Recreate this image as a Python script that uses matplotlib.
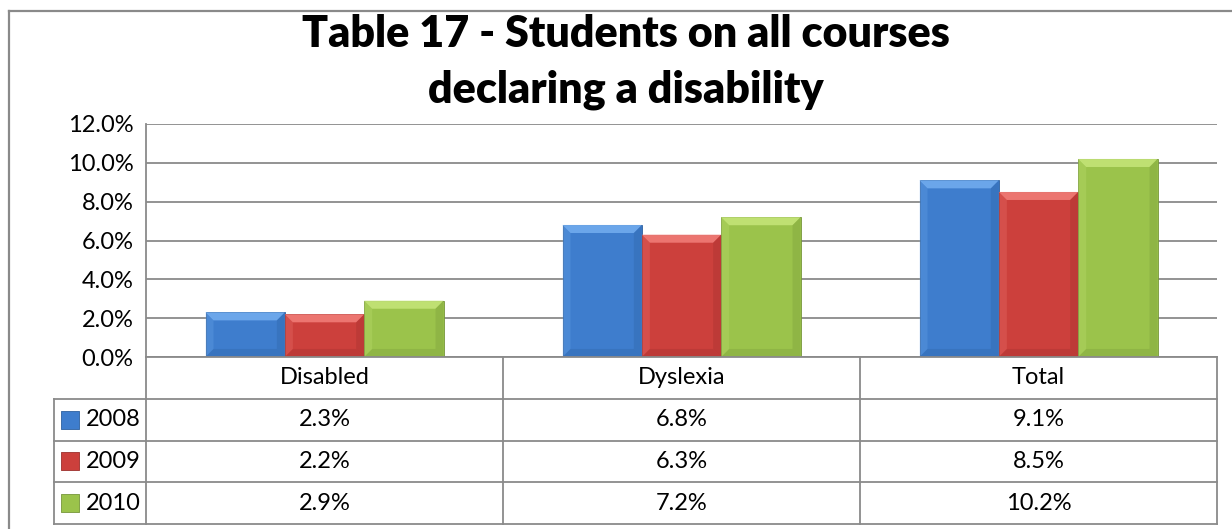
import matplotlib
matplotlib.use("Agg")
import matplotlib.pyplot as plt
from matplotlib.lines import Line2D
import numpy as np

categories = ["Disabled", "Dyslexia", "Total"]
years = ["2008", "2009", "2010"]
values = {
    "2008": [2.3, 6.8, 9.1],
    "2009": [2.2, 6.3, 8.5],
    "2010": [2.9, 7.2, 10.2],
}
yticks = [0, 2, 4, 6, 8, 10, 12]
title_lines = ["Table 17 - Students on all courses", "declaring a disability"]

# face, light bevel, dark bevel
colors = {
    "2008": ("#3e7dcd", "#74aef0", "#2d609f"),
    "2009": ("#cc403c", "#f27f7a", "#9c2f2c"),
    "2010": ("#9bc34b", "#c6e67a", "#76963a"),
}
grid_c = "#8a8a8a"

plt.rcParams["font.family"] = ["Lato", "DejaVu Sans"]

W, H = 1232, 529
fig = plt.figure(figsize=(W / 100, H / 100), dpi=100)

def px_rect(x0, y0, x1, y1):
    return [x0 / W, 1 - y1 / H, (x1 - x0) / W, (y1 - y0) / H]

# outer chart frame (left + top visible)
fig.add_artist(Line2D([9 / W, 9 / W], [0, 1 - 11 / H], color=grid_c, lw=1.6))
fig.add_artist(Line2D([9 / W, 1], [1 - 11 / H, 1 - 11 / H], color=grid_c, lw=1.6))

for i, line in enumerate(title_lines):
    fig.text(626 / W, 1 - (47 + 55 * i) / H, line, ha="center", va="baseline",
             fontsize=31, fontweight="heavy")

ax = fig.add_axes(px_rect(146, 124, 1217, 357))
n = len(years)
bw = 1 / (n + 1.5)
x = np.arange(len(categories))
bx = 8 / 357
by = 8 / 19.35

for j, yr in enumerate(years):
    face, light, dark = colors[yr]
    xs = x - bw * n / 2 + bw * j
    bars = ax.bar(xs, values[yr], bw, align="edge", color=face,
                  edgecolor=dark, linewidth=0.6, zorder=3)
    for b in bars:
        x0, x1 = b.get_x(), b.get_x() + b.get_width()
        h = b.get_height()
        ax.fill([x0, x1, x1 - bx, x0 + bx], [h, h, h - by, h - by], color=light, lw=0, zorder=4, alpha=0.85)
        ax.fill([x0, x0 + bx, x0 + bx, x0], [0, by, h - by, h], color=light, lw=0, zorder=4, alpha=0.25)
        ax.fill([x1, x1 - bx, x1 - bx, x1], [0, by, h - by, h], color=dark, lw=0, zorder=4, alpha=0.3)
        ax.fill([x0, x1, x1 - bx, x0 + bx], [0, 0, by, by], color=dark, lw=0, zorder=4, alpha=0.3)

ax.set_xlim(-0.5, 2.5)
ax.set_ylim(0, 12)
ax.set_yticks(yticks)
ax.set_yticklabels([f"{t:.1f}%" for t in yticks], fontsize=17)
ax.set_xticks([])
ax.tick_params(axis="y", length=0, pad=9)
for s in ["top", "right", "bottom"]:
    ax.spines[s].set_visible(False)
ax.spines["left"].set_color(grid_c)
ax.spines["left"].set_linewidth(1.3)
ax.grid(axis="y", color=grid_c, lw=1.3, zorder=0)

# data table below the axis
tx = fig.add_axes(px_rect(54, 357, 1217, 524))
left = -0.5 - (146 - 54) / 357
tx.set_xlim(left, 2.5)
tx.set_ylim(4, 0)
tx.axis("off")
lk = dict(color=grid_c, lw=1.3, clip_on=False)
tx.plot([-0.5, 2.5], [0, 0], **lk)
for r in range(1, 5):
    tx.plot([left, 2.5], [r, r], **lk)
for c in [-0.5, 0.5, 1.5, 2.5]:
    tx.plot([c, c], [0, 4], **lk)
tx.plot([left, left], [1, 4], **lk)

for i, cat in enumerate(categories):
    tx.text(i, 0.5, cat, ha="center", va="center", fontsize=17)
for j, yr in enumerate(years):
    face, light, dark = colors[yr]
    tx.scatter([left + 16 / 357], [j + 1.5], marker="s", s=150, color=face,
               edgecolors=dark, linewidths=0.6, clip_on=False)
    tx.text(left + 32 / 357, j + 1.5, yr, ha="left", va="center", fontsize=17)
    for i in range(len(categories)):
        tx.text(i, j + 1.5, f"{values[yr][i]:.1f}%", ha="center", va="center", fontsize=17)

fig.savefig("out.png", dpi=100)
